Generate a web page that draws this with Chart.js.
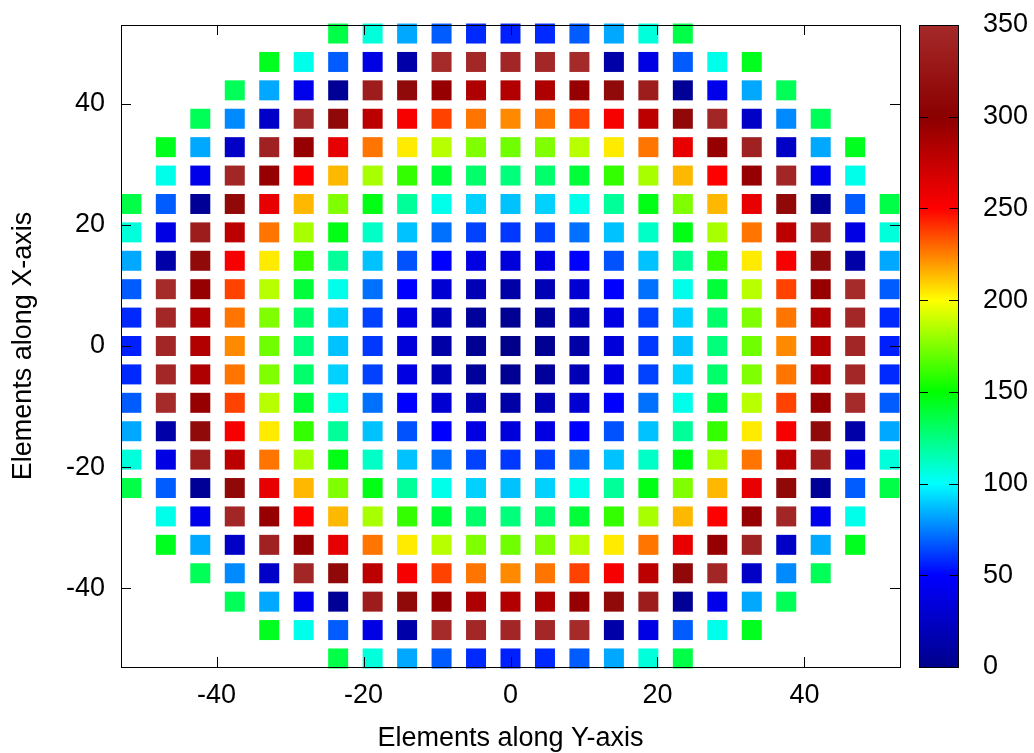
<!DOCTYPE html>
<html>
<head>
<meta charset="utf-8">
<script src="https://cdn.jsdelivr.net/npm/chart.js@4/dist/chart.umd.min.js"></script>
<style>
  html, body { margin: 0; padding: 0; background: #ffffff; }
  canvas { display: block; }
</style>
</head>
<body>
<canvas id="c" width="1034" height="753"></canvas>
<script>
// ---------------- data ----------------
const _ = null;
// element centre positions (data units)
const colsX = [-51.59, -46.9, -42.21, -37.52, -32.83, -28.14, -23.45, -18.76, -14.07, -9.38, -4.69, 0,
               4.69, 9.38, 14.07, 18.76, 23.45, 28.14, 32.83, 37.52, 42.21, 46.9, 51.59];
const rowsY = [51.59, 46.9, 42.21, 37.52, 32.83, 28.14, 23.45, 18.76, 14.07, 9.38, 4.69, 0,
               -4.69, -9.38, -14.07, -18.76, -23.45, -28.14, -32.83, -37.52, -42.21, -46.9, -51.59];
// phase value of each element (rows top -> bottom, columns left -> right)
const phase = [
  [_,_,_,_,_,_,136,107,83,68,58,56,58,68,83,107,136,_,_,_,_,_,_],
  [_,_,_,_,144,104,68,39,13,350,347,345,347,350,13,39,68,104,144,_,_,_,_],
  [_,_,_,133,83,41,5,335,312,295,285,283,285,295,312,335,5,41,83,133,_,_,_],
  [_,_,133,77,26,345,310,279,254,237,227,223,227,237,254,279,310,345,26,77,133,_,_],
  [_,144,83,26,339,295,260,227,204,186,175,172,175,186,204,227,260,295,339,26,83,144,_],
  [_,104,41,345,295,250,214,183,160,139,129,126,129,139,160,183,214,250,295,345,41,104,_],
  [136,68,5,310,260,214,175,146,120,104,91,88,91,104,120,146,175,214,260,310,5,68,136],
  [107,39,335,279,227,183,146,111,88,72,63,61,63,72,88,111,146,183,227,279,335,39,107],
  [83,13,312,254,204,160,120,88,66,50,38,34,38,50,66,88,120,160,204,254,312,13,83],
  [68,350,295,237,186,139,104,72,50,31,18,12,18,31,50,72,104,139,186,237,295,350,68],
  [58,347,285,227,175,129,91,63,38,18,7,3,7,18,38,63,91,129,175,227,285,347,58],
  [56,345,283,223,172,126,88,61,34,12,3,0,3,12,34,61,88,126,172,223,283,345,56],
  [58,347,285,227,175,129,91,63,38,18,7,3,7,18,38,63,91,129,175,227,285,347,58],
  [68,350,295,237,186,139,104,72,50,31,18,12,18,31,50,72,104,139,186,237,295,350,68],
  [83,13,312,254,204,160,120,88,66,50,38,34,38,50,66,88,120,160,204,254,312,13,83],
  [107,39,335,279,227,183,146,111,88,72,63,61,63,72,88,111,146,183,227,279,335,39,107],
  [136,68,5,310,260,214,175,146,120,104,91,88,91,104,120,146,175,214,260,310,5,68,136],
  [_,104,41,345,295,250,214,183,160,139,129,126,129,139,160,183,214,250,295,345,41,104,_],
  [_,144,83,26,339,295,260,227,204,186,175,172,175,186,204,227,260,295,339,26,83,144,_],
  [_,_,133,77,26,345,310,279,254,237,227,223,227,237,254,279,310,345,26,77,133,_,_],
  [_,_,_,133,83,41,5,335,312,295,285,283,285,295,312,335,5,41,83,133,_,_,_],
  [_,_,_,_,144,104,68,39,13,350,347,345,347,350,13,39,68,104,144,_,_,_,_],
  [_,_,_,_,_,_,136,107,83,68,58,56,58,68,83,107,136,_,_,_,_,_,_]
];
const xRange = [-53, 53];
const yRange = [-53, 53];
const xTicks = [-40, -20, 0, 20, 40];
const yTicks = [-40, -20, 0, 20, 40];
const cbRange = [0, 350];
const cbTicks = [0, 50, 100, 150, 200, 250, 300, 350];
const paletteStops = [0, 50, 100, 150, 200, 250, 300, 350];
const paletteColors = ['#00008b', '#0000ff', '#00ffff', '#00ff00', '#ffff00', '#ff0000', '#8b0000', '#a52a2a'];
const xTitle = 'Elements along Y-axis';
const yTitle = 'Elements along X-axis';

// ---------------- helpers ----------------
function hexToRgb(h) {
  return [parseInt(h.slice(1, 3), 16), parseInt(h.slice(3, 5), 16), parseInt(h.slice(5, 7), 16)];
}
const paletteRgb = paletteColors.map(hexToRgb);
function colorFor(v) {
  const lo = paletteStops[0], hi = paletteStops[paletteStops.length - 1];
  v = Math.max(lo, Math.min(hi, v));
  let k = 0;
  while (k < paletteStops.length - 2 && v > paletteStops[k + 1]) k++;
  const t = (v - paletteStops[k]) / (paletteStops[k + 1] - paletteStops[k]);
  const a = paletteRgb[k], b = paletteRgb[k + 1];
  const c = a.map((ch, i) => Math.round(ch + (b[i] - ch) * t));
  return 'rgb(' + c.join(',') + ')';
}

const points = [];
rowsY.forEach((yv, r) => {
  colsX.forEach((xv, c) => {
    const v = phase[r][c];
    if (v !== null) points.push({ x: xv, y: yv, v: v });
  });
});

// ---------------- styling constants ----------------
const FONT = '"Liberation Sans", Arial, Helvetica, sans-serif';
const FS = 27;
const TICK = 10;
const CB_GAP = 19;
const CB_W = 39;
const CB_TICK = 9;

function fixBox(size, isWidth) {
  return s => {
    if (isWidth) s.width = size; else s.height = size;
    s.paddingTop = 0; s.paddingBottom = 0; s.paddingLeft = 0; s.paddingRight = 0;
  };
}

const framePlugin = {
  id: 'frame',
  beforeDatasetsDraw(chart) {
    const { ctx, chartArea: a, scales: { cb } } = chart;
    const x0 = a.right + CB_GAP;
    const top = cb.getPixelForValue(cbRange[1]);
    const bot = cb.getPixelForValue(cbRange[0]);
    const g = ctx.createLinearGradient(0, bot, 0, top);
    paletteStops.forEach((s, i) => g.addColorStop((s - cbRange[0]) / (cbRange[1] - cbRange[0]), paletteColors[i]));
    ctx.save();
    ctx.fillStyle = g;
    ctx.fillRect(x0, top, CB_W, bot - top);
    ctx.restore();
  },
  afterDatasetsDraw(chart) {
    const { ctx, chartArea: a, scales: { x, y, cb } } = chart;
    ctx.save();
    ctx.strokeStyle = '#000';
    ctx.lineWidth = 1;
    ctx.beginPath();
    x.ticks.forEach(t => {
      const px = Math.round(x.getPixelForValue(t.value)) + 0.5;
      ctx.moveTo(px, a.bottom); ctx.lineTo(px, a.bottom - TICK);
      ctx.moveTo(px, a.top); ctx.lineTo(px, a.top + TICK);
    });
    y.ticks.forEach(t => {
      const py = Math.round(y.getPixelForValue(t.value)) + 0.5;
      ctx.moveTo(a.left, py); ctx.lineTo(a.left + TICK, py);
      ctx.moveTo(a.right, py); ctx.lineTo(a.right - TICK, py);
    });
    const x0 = a.right + CB_GAP;
    cb.ticks.forEach(t => {
      const py = Math.round(cb.getPixelForValue(t.value)) + 0.5;
      ctx.moveTo(x0, py); ctx.lineTo(x0 + CB_TICK, py);
      ctx.moveTo(x0 + CB_W, py); ctx.lineTo(x0 + CB_W - CB_TICK, py);
    });
    ctx.stroke();
    ctx.strokeRect(Math.round(a.left) + 0.5, Math.round(a.top) + 0.5,
                   Math.round(a.right - a.left), Math.round(a.bottom - a.top));
    const top = Math.round(cb.getPixelForValue(cbRange[1]));
    const bot = Math.round(cb.getPixelForValue(cbRange[0]));
    ctx.strokeRect(Math.round(x0) + 0.5, top + 0.5, CB_W, bot - top);
    ctx.restore();
  }
};

Chart.defaults.font.family = FONT;
Chart.defaults.color = '#000';

new Chart(document.getElementById('c'), {
  type: 'scatter',
  data: {
    datasets: [{
      data: points,
      pointStyle: 'rect',
      pointRadius: 14.142,
      pointHoverRadius: 14.142,
      pointBorderWidth: 0,
      pointBackgroundColor: ctx => colorFor(ctx.raw ? ctx.raw.v : 0),
      showLine: false,
      clip: false
    }]
  },
  options: {
    responsive: false,
    animation: false,
    devicePixelRatio: 1,
    events: [],
    layout: { padding: { top: 25, left: 0, right: 0, bottom: 0 } },
    plugins: { legend: { display: false }, tooltip: { enabled: false } },
    scales: {
      x: {
        type: 'linear', position: 'bottom', min: xRange[0], max: xRange[1],
        grid: { display: false, drawTicks: false }, border: { display: false },
        afterBuildTicks: s => { s.ticks = xTicks.map(v => ({ value: v })); },
        afterFit: fixBox(86, false),
        ticks: { padding: 15, autoSkip: false, maxRotation: 0, font: { size: FS, lineHeight: 1 } },
        title: { display: true, text: xTitle, font: { size: FS, lineHeight: 1 }, padding: { top: 0, bottom: 1 } }
      },
      y: {
        type: 'linear', position: 'left', min: yRange[0], max: yRange[1],
        grid: { display: false, drawTicks: false }, border: { display: false },
        afterBuildTicks: s => { s.ticks = yTicks.map(v => ({ value: v })); },
        afterFit: fixBox(121, true),
        ticks: { padding: 16, autoSkip: false, font: { size: FS, lineHeight: 1 } },
        title: { display: true, text: yTitle, font: { size: FS, lineHeight: 1 }, padding: { top: 10, bottom: 0 } }
      },
      cb: {
        type: 'linear', position: 'right', min: cbRange[0], max: cbRange[1],
        grid: { display: false, drawTicks: false }, border: { display: false },
        afterBuildTicks: s => { s.ticks = cbTicks.map(v => ({ value: v })); },
        afterFit: fixBox(134, true),
        ticks: { padding: 83, autoSkip: false, font: { size: FS, lineHeight: 1 } }
      }
    }
  },
  plugins: [framePlugin]
});
</script>
</body>
</html>
